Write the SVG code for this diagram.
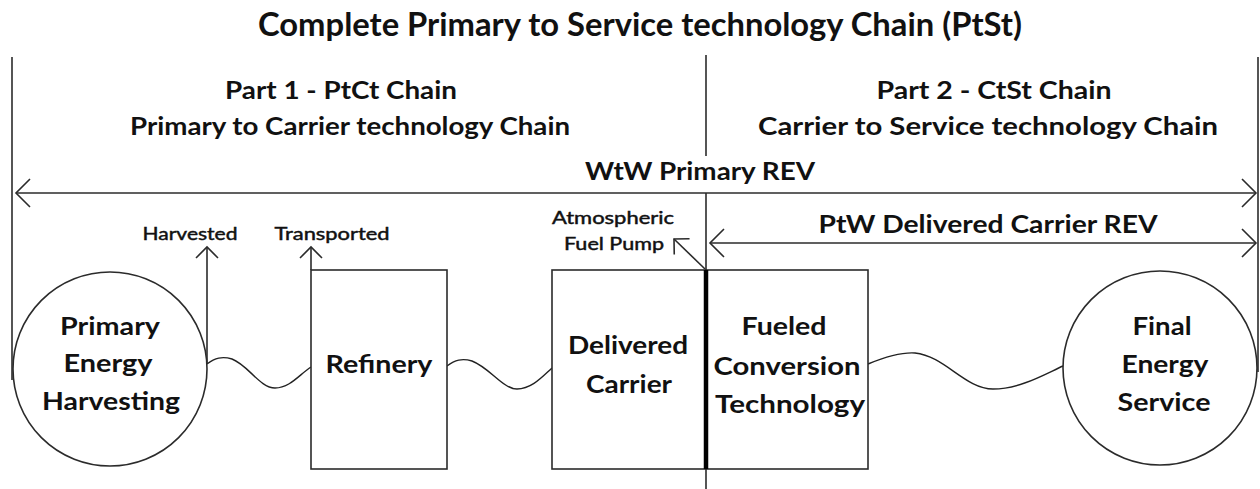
<svg xmlns="http://www.w3.org/2000/svg" width="1260" height="489" viewBox="0 0 1260 489">
  <style>
    .bg { fill: #ffffff; }
    .ln { stroke: #2b2b2b; stroke-width: 1.6; fill: none; }
    .thick { stroke: #000000; stroke-width: 4.5; fill: none; }
    .node { stroke: #2b2b2b; stroke-width: 1.6; fill: #ffffff; }
    .wave { stroke: #222222; stroke-width: 1.4; fill: none; }
    text { font-family: Lato, "Open Sans", "Liberation Sans", sans-serif; fill: #111111; text-anchor: middle; }
    .title { font-size: 32px; font-weight: bold; }
    .head { font-size: 24px; font-weight: bold; }
    .lbl { font-size: 24px; font-weight: bold; }
    .small { font-size: 17px; font-weight: normal; stroke: #111111; stroke-width: 0.45; }
  </style>
  <defs>
    <marker id="chev" viewBox="-16 -16 18 32" refX="0" refY="0" markerWidth="18" markerHeight="32" markerUnits="userSpaceOnUse" orient="auto-start-reverse">
      <polyline points="-14,-14 0,0 -14,14" fill="none" stroke="#2b2b2b" stroke-width="1.6"/>
    </marker>
    <marker id="chevS" viewBox="-13 -13 15 26" refX="0" refY="0" markerWidth="15" markerHeight="26" markerUnits="userSpaceOnUse" orient="auto">
      <polyline points="-11,-11 0,0 -11,11" fill="none" stroke="#2b2b2b" stroke-width="1.6"/>
    </marker>
  </defs>

  <rect class="bg" x="0" y="0" width="1260" height="489"/>

  <!-- headings -->
  <g id="headings">
    <text class="title" x="640" y="36" textLength="764" lengthAdjust="spacingAndGlyphs">Complete Primary to Service technology Chain (PtSt)</text>
    <text class="head" x="341" y="99" textLength="232" lengthAdjust="spacingAndGlyphs">Part 1 - PtCt Chain</text>
    <text class="head" x="350" y="135" textLength="440" lengthAdjust="spacingAndGlyphs">Primary to Carrier technology Chain</text>
    <text class="head" x="994" y="99" textLength="235" lengthAdjust="spacingAndGlyphs">Part 2 - CtSt Chain</text>
    <text class="head" x="988" y="135" textLength="460" lengthAdjust="spacingAndGlyphs">Carrier to Service technology Chain</text>
    <text class="head" x="700" y="180" textLength="230" lengthAdjust="spacingAndGlyphs">WtW Primary REV</text>
    <text class="head" x="988" y="233" textLength="339" lengthAdjust="spacingAndGlyphs">PtW Delivered Carrier REV</text>
  </g>

  <!-- connectors: frame lines, spans, stage arrows and flows -->
  <g id="connectors">
    <line class="ln" x1="12" y1="57" x2="12" y2="380"/>
    <line class="ln" x1="1258" y1="57" x2="1258" y2="372"/>
    <line class="ln" x1="706" y1="55" x2="706" y2="156"/>
    <line class="ln" x1="706" y1="193" x2="706" y2="489"/>

    <line class="ln" x1="16" y1="193" x2="1256" y2="193" marker-start="url(#chev)" marker-end="url(#chev)"/>
    <line class="ln" x1="710" y1="243" x2="1256" y2="243" marker-start="url(#chev)" marker-end="url(#chev)"/>

    <line class="ln" x1="207" y1="363" x2="207" y2="247" marker-end="url(#chevS)"/>
    <line class="ln" x1="311" y1="270" x2="311" y2="247" marker-end="url(#chevS)"/>
    <line class="ln" x1="705" y1="269" x2="674" y2="239" marker-end="url(#chevS)"/>

    <path class="wave" d="M207,364 C215,358 222,356 232,359 C248,365 260,388 275,388 C290,388 300,374 311,367"/>
    <path class="wave" d="M447,366 C455,360 462,358 472,361 C490,368 503,389 517,389 C532,389 543,376 552,368"/>
    <path class="wave" d="M868,364 C885,357 900,352 915,353 C945,356 965,389 993,389 C1020,389 1045,374 1063,366"/>

    <text class="small" x="190" y="240" textLength="95" lengthAdjust="spacingAndGlyphs">Harvested</text>
    <text class="small" x="332" y="240" textLength="115" lengthAdjust="spacingAndGlyphs">Transported</text>
    <text class="small" x="613" y="224" textLength="122" lengthAdjust="spacingAndGlyphs">Atmospheric</text>
    <text class="small" x="614" y="250" textLength="100" lengthAdjust="spacingAndGlyphs">Fuel Pump</text>
  </g>

  <g id="primary-energy-harvesting">
    <circle class="node" cx="110" cy="369" r="97"/>
    <text class="lbl" x="110" y="335" textLength="100" lengthAdjust="spacingAndGlyphs">Primary</text>
    <text class="lbl" x="108" y="372" textLength="89" lengthAdjust="spacingAndGlyphs">Energy</text>
    <text class="lbl" x="111" y="410" textLength="138" lengthAdjust="spacingAndGlyphs">Harvesting</text>
  </g>

  <g id="refinery">
    <rect class="node" x="311" y="270" width="136" height="199"/>
    <text class="lbl" x="379" y="373" textLength="107" lengthAdjust="spacingAndGlyphs">Refinery</text>
  </g>

  <g id="delivered-carrier">
    <rect class="node" x="552" y="270" width="154" height="199"/>
    <text class="lbl" x="628" y="354" textLength="120" lengthAdjust="spacingAndGlyphs">Delivered</text>
    <text class="lbl" x="629" y="393" textLength="86" lengthAdjust="spacingAndGlyphs">Carrier</text>
  </g>

  <g id="fueled-conversion-technology">
    <rect class="node" x="706" y="270" width="162" height="199"/>
    <text class="lbl" x="784" y="335" textLength="85" lengthAdjust="spacingAndGlyphs">Fueled</text>
    <text class="lbl" x="787" y="375" textLength="147" lengthAdjust="spacingAndGlyphs">Conversion</text>
    <text class="lbl" x="790" y="413" textLength="150" lengthAdjust="spacingAndGlyphs">Technology</text>
  </g>

  <!-- carrier hand-over boundary -->
  <g id="boundary">
    <line class="thick" x1="706" y1="270" x2="706" y2="469"/>
  </g>

  <g id="final-energy-service">
    <circle class="node" cx="1160" cy="368" r="97"/>
    <text class="lbl" x="1162" y="335" textLength="59" lengthAdjust="spacingAndGlyphs">Final</text>
    <text class="lbl" x="1165" y="373" textLength="87" lengthAdjust="spacingAndGlyphs">Energy</text>
    <text class="lbl" x="1164" y="411" textLength="93" lengthAdjust="spacingAndGlyphs">Service</text>
  </g>
</svg>
